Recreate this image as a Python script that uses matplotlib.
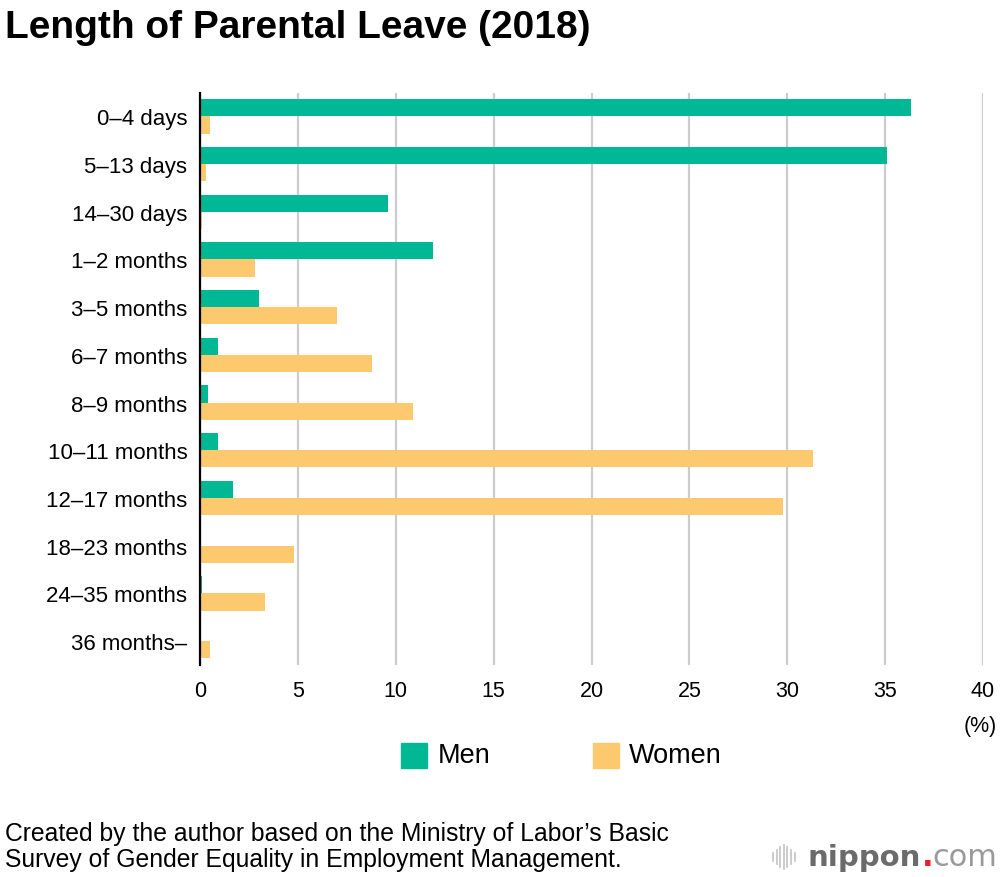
import numpy as np
import matplotlib.pyplot as plt
from matplotlib.lines import Line2D
from matplotlib.patches import Rectangle

plt.rcParams['font.family'] = ['Liberation Sans', 'DejaVu Sans']

categories = ['0–4 days', '5–13 days', '14–30 days', '1–2 months', '3–5 months',
              '6–7 months', '8–9 months', '10–11 months', '12–17 months',
              '18–23 months', '24–35 months', '36 months–']
men = [36.3, 35.1, 9.6, 11.9, 3.0, 0.9, 0.4, 0.9, 1.7, 0.0, 0.1, 0.0]
women = [0.5, 0.3, 0.1, 2.8, 7.0, 8.8, 10.9, 31.3, 29.8, 4.8, 3.3, 0.5]
x_ticks = [0, 5, 10, 15, 20, 25, 30, 35, 40]

green = '#00B994'
orange = '#FDC96E'

fig = plt.figure(figsize=(10, 8.78), dpi=100)
ax = fig.add_axes([0.2, 0.2415, 0.783, 0.652])

y = np.arange(len(categories))
h = 0.36
ax.barh(y - h / 2, men, height=h, color=green, zorder=3)
ax.barh(y + h / 2, women, height=h, color=orange, zorder=3)

ax.set_xlim(0, 40)
ax.set_ylim(len(categories) - 0.5, -0.5)
ax.set_yticks(y)
ax.set_yticklabels(categories, fontsize=16)
ax.set_xticks(x_ticks)
ax.set_xticklabels([str(t) for t in x_ticks], fontsize=15.5)
ax.tick_params(axis='x', length=0, pad=11)
ax.tick_params(axis='y', length=0, pad=9)
ax.xaxis.grid(True, color='#cccccc', linewidth=1.6, zorder=0)
for s in ['top', 'right', 'bottom']:
    ax.spines[s].set_visible(False)
ax.spines['left'].set_linewidth(1.6)
ax.spines['left'].set_zorder(4)

fig.text(0.005, 1 - 28 / 878, 'Length of Parental Leave (2018)', fontsize=28,
         fontweight='bold', va='center', ha='left')
fig.text(0.997, 1 - 727 / 878, '(%)', fontsize=15.5, ha='right', va='center')

# legend
ly = 1 - 756 / 878
fig.add_artist(Rectangle((0.401, ly - 12.5 / 878), 0.026, 25 / 878,
                         color=green, transform=fig.transFigure))
fig.text(0.438, ly, 'Men', fontsize=19.5, va='center')
fig.add_artist(Rectangle((0.593, ly - 12.5 / 878), 0.026, 25 / 878,
                         color=orange, transform=fig.transFigure))
fig.text(0.629, ly, 'Women', fontsize=19.5, va='center')

# source note
fig.text(0.005, 1 - 834 / 878, 'Created by the author based on the Ministry of Labor’s Basic',
         fontsize=17.8, va='center')
fig.text(0.005, 1 - 860 / 878, 'Survey of Gender Equality in Employment Management.',
         fontsize=17.8, va='center')

# nippon.com logo
logo_y = 1 - 858 / 878
bar_heights = [8, 14, 20, 24, 20, 14, 8]
for i, bh in enumerate(bar_heights):
    xx = (773 + i * 3.6) / 1000
    fig.add_artist(Line2D([xx, xx], [logo_y - bh / 2 / 878, logo_y + bh / 2 / 878],
                          color='#c8c8c8', linewidth=1.3, transform=fig.transFigure))
fig.text(0.808, logo_y, 'nippon', fontsize=21, fontweight='bold', color='#6b6b6b',
         va='center', family=['DejaVu Sans'])
fig.text(0.9215, logo_y, '.', fontsize=22, fontweight='bold', color='#e8202a',
         va='center', family=['DejaVu Sans'])
fig.text(0.932, logo_y, 'com', fontsize=22, color='#9a9a9a', va='center',
         family=['DejaVu Sans'])

fig.savefig('out.png', dpi=100, facecolor='white')
